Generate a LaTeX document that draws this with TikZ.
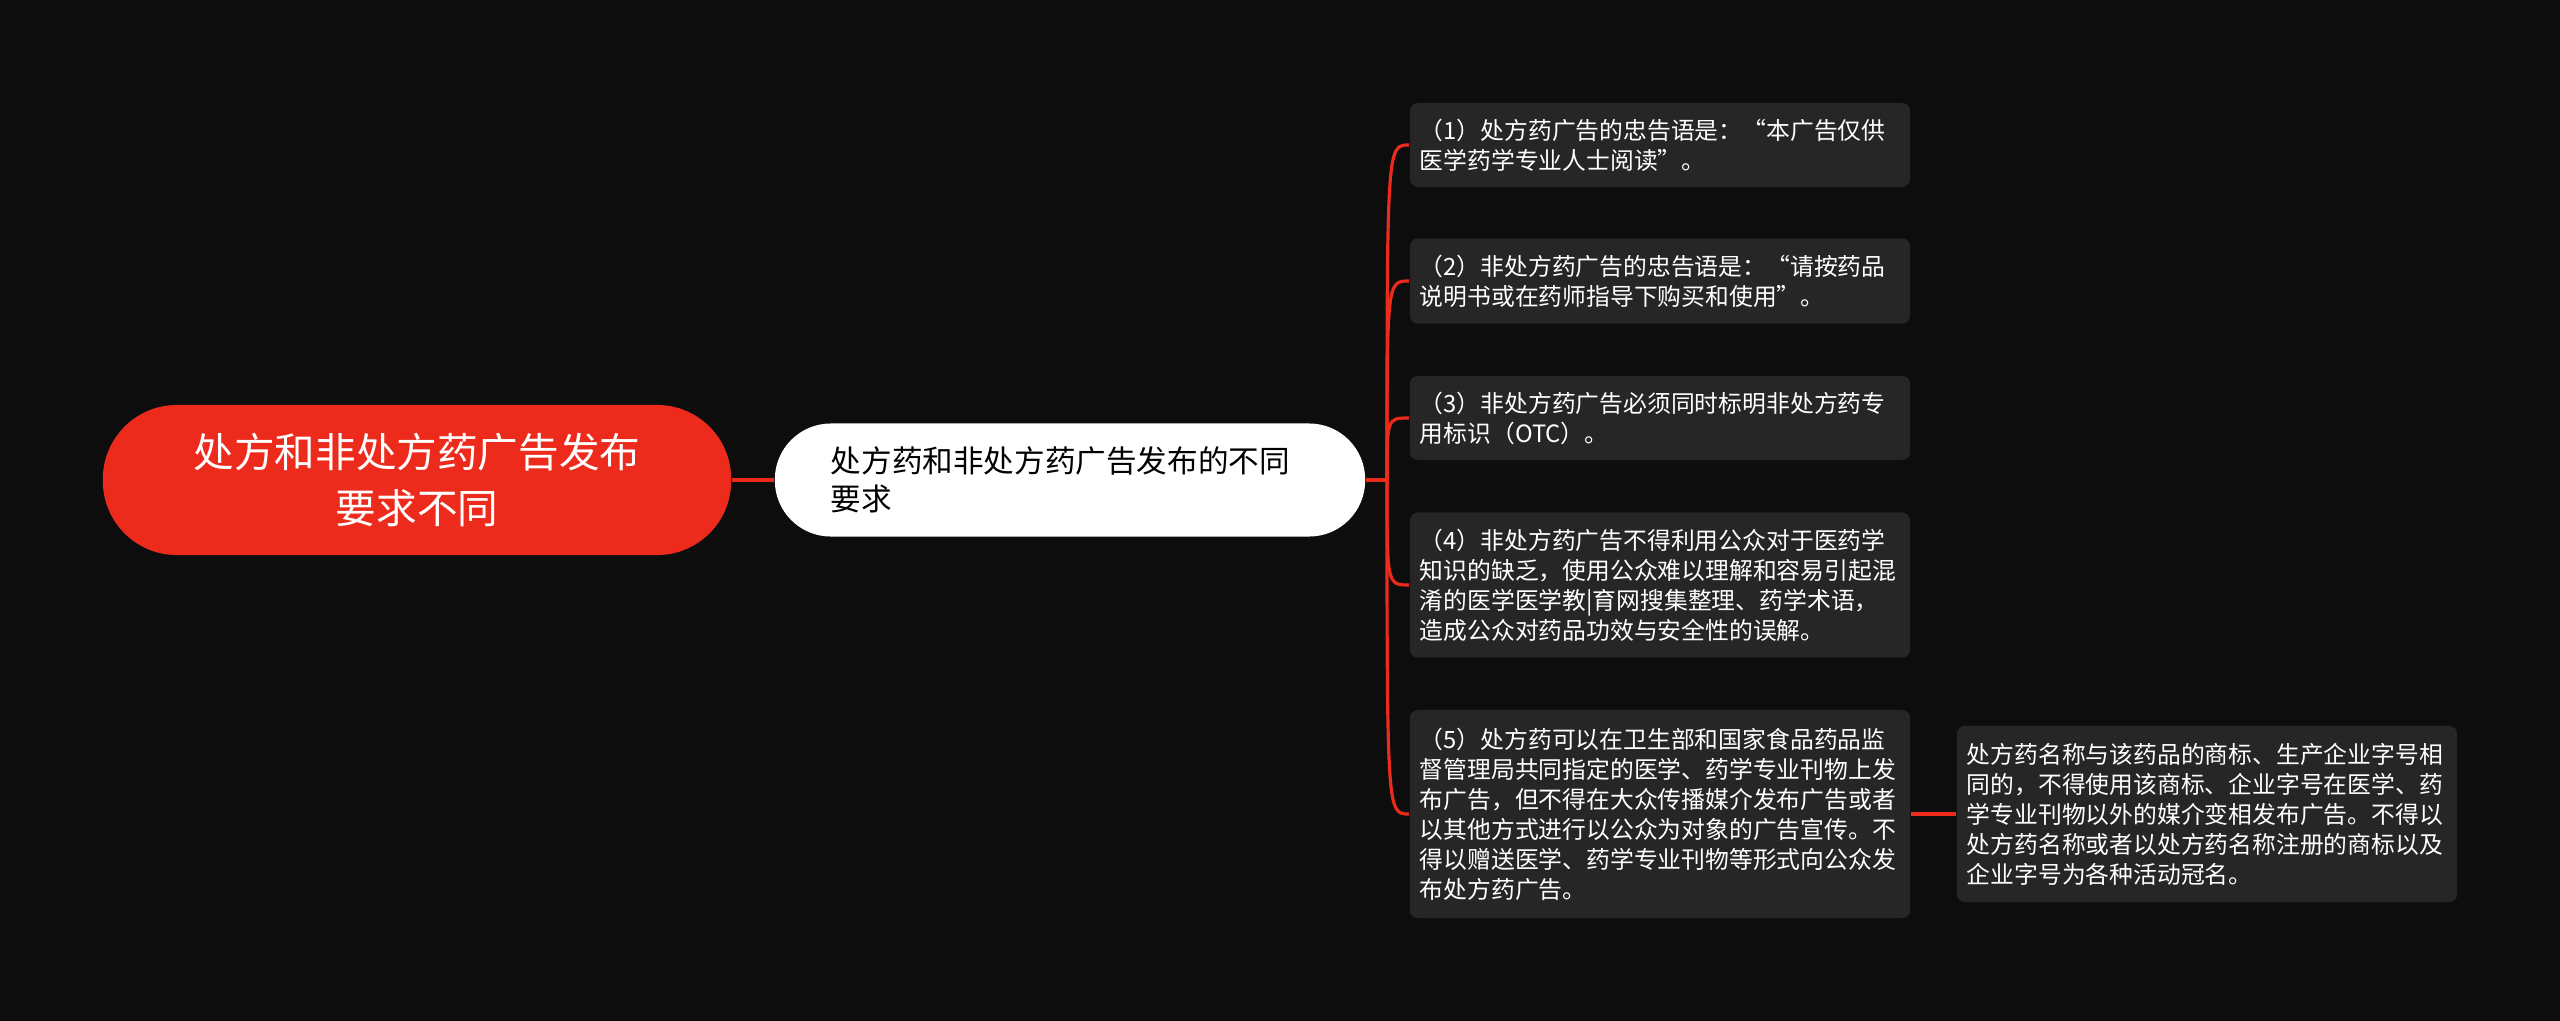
\documentclass[tikz,border=0pt]{standalone}
\usepackage{fontspec}
\setmainfont{Noto Sans CJK SC}
\usepackage{tikz}
\usetikzlibrary{calc}
\definecolor{bgdark}{RGB}{13,13,13}
\definecolor{topicred}{RGB}{236,43,28}
\definecolor{leafgrey}{RGB}{38,38,38}

\begin{document}
\begin{tikzpicture}[x=0.01cm,y=-0.01cm]
\tikzstyle{root}=[fill=topicred,text=white,rounded corners=0.74cm,minimum width=6.28cm,minimum height=1.5cm,align=center,font=\fontsize{11.55pt}{15.9pt}\selectfont]
\tikzstyle{main}=[fill=white,text=black,rounded corners=0.56cm,minimum height=1.13cm,inner xsep=0.56cm,text width=4.78cm,align=left,font=\fontsize{8.7pt}{10.8pt}\selectfont]
\tikzstyle{leaf}=[fill=leafgrey,text=white,rounded corners=0.08cm,inner xsep=0.1cm,text width=4.8cm,align=left,font=\fontsize{6.77pt}{8.54pt}\selectfont]
\tikzstyle{link}=[draw=topicred,line width=0.9pt]
\fill[bgdark] (0,0) rectangle (2560,1021);
\node[root] (T_0) at (417,480) {处方和非处方药广告发布\\要求不同};
\node[main] (T_1) at (1070,480) {处方药和非处方药广告发布的不同\\要求};
\node[leaf,minimum height=0.84cm] (L_1) at (1660,145) {（1）处方药广告的忠告语是：“本广告仅供\\医学药学专业人士阅读”。};
\node[leaf,minimum height=0.85cm] (L_2) at (1660,281) {（2）非处方药广告的忠告语是：“请按药品\\说明书或在药师指导下购买和使用”。};
\node[leaf,minimum height=0.84cm] (L_3) at (1660,418) {（3）非处方药广告必须同时标明非处方药专\\用标识（OTC）。};
\node[leaf,minimum height=1.45cm] (L_4) at (1660,585) {（4）非处方药广告不得利用公众对于医药学\\知识的缺乏，使用公众难以理解和容易引起混\\淆的医学医学教|育网搜集整理、药学术语，\\造成公众对药品功效与安全性的误解。};
\node[leaf,minimum height=2.08cm] (L_5) at (1660,814) {（5）处方药可以在卫生部和国家食品药品监\\督管理局共同指定的医学、药学专业刊物上发\\布广告，但不得在大众传播媒介发布广告或者\\以其他方式进行以公众为对象的广告宣传。不\\得以赠送医学、药学专业刊物等形式向公众发\\布处方药广告。};
\node[leaf,minimum height=1.76cm] (S_1) at (2207,814) {处方药名称与该药品的商标、生产企业字号相\\同的，不得使用该商标、企业字号在医学、药\\学专业刊物以外的媒介变相发布广告。不得以\\处方药名称或者以处方药名称注册的商标以及\\企业字号为各种活动冠名。};
\coordinate (fork) at (1387,480);
\draw[link] (T_0) -- (T_1);
\draw[link] (T_1.east) -- (fork);
\foreach \i in {1,...,5}
  \draw[link] (fork) .. controls (fork |- L_\i.west) .. (L_\i.west);
\draw[link] (L_5) -- (S_1);
\end{tikzpicture}
\end{document}
